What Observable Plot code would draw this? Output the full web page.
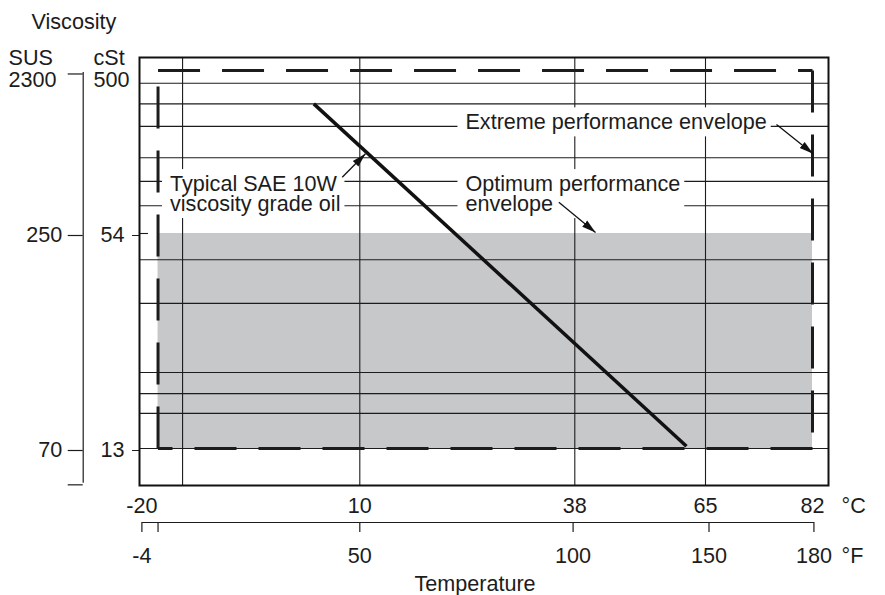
<!DOCTYPE html>
<html>
<head>
<meta charset="utf-8">
<script src="https://cdn.jsdelivr.net/npm/d3@7"></script>
<script src="https://cdn.jsdelivr.net/npm/@observablehq/plot@0.6"></script>
<style>
  html, body { margin: 0; padding: 0; background: #fff; }
</style>
</head>
<body>
<div id="chart"></div>
<script>
// ---------- data (temperature in °C, viscosity in cSt) ----------
const celsiusTicks = [-20, 10, 38, 65, 82];
const fahrenheitTicks = [-4, 0, 50, 100, 150, 180];
const fahrenheitLabels = ["-4", "", "50", "100", "150", "180"];
const celsiusGrid = [-14.4, 10, 38, 65];

const cstTicks = [54, 13];
const cstGrid = [420, 317, 233, 152, 110, 78.8, 45.4, 34.0, 21.5, 18.7, 16.4, 13];

const susLabels = ["", "250", "70", ""];
const susAsCst = [490, 54, 13, 10.38];

// envelopes
const envTempLow = 0;      // °F (left edge)
const envTempHigh = 82;    // °C (right edge)
const extremeVisc = [13, 500];
const optimumVisc = [13, 54];

// typical SAE 10W oil line
const oilTemp = [3.67, 61.07];
const oilVisc = [317, 13.2];

// annotations
const noteText = ["Typical SAE 10W\nviscosity grade oil", "Optimum performance\nenvelope", "Extreme performance envelope"];
const noteTemp = [-16.13, 23.76, 23.76];
const noteVisc = [117.0, 117.0, 271.8];

const arrowFromTemp = [7.58, 35.92, 76.28];
const arrowFromVisc = [116.5, 82.8, 239.3];
const arrowToTemp = [10.74, 42.28, 82.1];
const arrowToVisc = [160.4, 54.7, 160.4];

// ---------- helpers ----------
const fToC = f => (f - 32) * 5 / 9;
const fLabelMap = new Map(fahrenheitTicks.map((f, i) => [fToC(f), fahrenheitLabels[i]]));
const susLabelMap = new Map(susAsCst.map((c, i) => [c, susLabels[i]]));

const t0 = fToC(envTempLow), t1 = envTempHigh;
const [v0, v1] = extremeVisc;
const corners = [[t0, v1], [t1, v1], [t1, v0], [t0, v0]];
const sidePts = [];
for (let i = 0; i < 4; i++) {
  const a = corners[i], b = corners[(i + 1) % 4];
  sidePts.push({t: a[0], v: a[1], side: i}, {t: b[0], v: b[1], side: i});
}
const oil = oilTemp.map((t, i) => ({t, v: oilVisc[i]}));
const notes = noteText.map((text, i) => ({text, t: noteTemp[i], v: noteVisc[i]}));
const arrows = arrowFromTemp.map((t, i) => ({
  ta: t, va: arrowFromVisc[i], tb: arrowToTemp[i], vb: arrowToVisc[i]
}));

// scale breakpoints (the printed chart's axes are not uniform)
const xDomain = [-20.33, 10, 38, 65, 82, 84.5];
const xRange = [139, 359.3, 574.3, 705, 812, 828];
const yDomain = [10.2, 13, 54, 500, 597];
const yRange = [485, 448, 233, 70, 57];
const yBottom = yDomain[0];
const xLeft = xDomain[0];

const ink = "#1c1c1c";

const chart = Plot.plot({
  width: 885,
  height: 595,
  marginLeft: 139,
  marginRight: 57,
  marginTop: 57,
  marginBottom: 110,
  style: {
    fontFamily: '"Liberation Sans", Arial, Helvetica, sans-serif',
    fontSize: "21.6px",
    color: ink,
    background: "#fff"
  },
  x: {type: "linear", domain: xDomain, range: xRange},
  y: {type: "log", domain: yDomain, range: yRange},
  marks: [
    // optimum envelope shading
    Plot.rect([{a: t0, b: t1, lo: optimumVisc[0], hi: optimumVisc[1]}], {
      x1: "a", x2: "b", y1: "lo", y2: "hi", fill: "#c7c8ca"
    }),
    // grid
    Plot.gridY(cstGrid, {stroke: ink, strokeOpacity: 1, strokeWidth: 1.1}),
    Plot.gridX(celsiusGrid, {stroke: ink, strokeOpacity: 1, strokeWidth: 1.1}),
    // extreme envelope (dashed)
    Plot.line(sidePts, {
      x: "t", y: "v", z: "side", stroke: ink, strokeWidth: 3,
      strokeDasharray: "42,22", strokeLinecap: "butt"
    }),
    // oil line
    Plot.line(oil, {x: "t", y: "v", stroke: "#111", strokeWidth: 3.5, strokeLinecap: "butt"}),
    // annotations (white boxes are added behind them after rendering)
    Plot.text(notes, {
      x: "t", y: "v", text: "text", textAnchor: "start", lineAnchor: "top",
      lineHeight: 0.926, fill: ink
    }),
    // leader arrows
    Plot.link(arrows, {
      x1: "ta", y1: "va", x2: "tb", y2: "vb", stroke: "#111", strokeWidth: 1.3,
      markerEnd: "arrow"
    }),
    // °C axis
    Plot.axisX(celsiusTicks, {anchor: "bottom", tickSize: 0, tickPadding: 11.7, label: null, tickFormat: d => String(d)}),
    // °F axis
    Plot.link([0], {
      x1: () => fToC(-4), x2: () => fToC(180), y1: () => yBottom, y2: () => yBottom,
      dy: 37, stroke: ink, strokeWidth: 1.2
    }),
    Plot.axisX(fahrenheitTicks.map(fToC), {
      anchor: "bottom", tickSize: 10, tickPadding: 14.7, dy: 37, label: null,
      strokeWidth: 1.2, tickFormat: d => fLabelMap.get(d)
    }),
    // cSt axis
    Plot.axisY(cstTicks, {anchor: "left", tickSize: 7, tickPadding: 8, dy: 2, label: null, tickFormat: d => String(d)}),
    Plot.ruleY([cstTicks[0]], {x1: () => xLeft, x2: () => -19.09, stroke: ink, strokeWidth: 1.1}),
    // SUS bracket axis
    Plot.link([0], {
      x1: () => xLeft, x2: () => xLeft, y1: () => susAsCst[3], y2: () => susAsCst[0],
      dx: -56.3, stroke: ink, strokeWidth: 1.2
    }),
    Plot.axisY(susAsCst, {
      anchor: "left", tickSize: 15, tickPadding: 6, dx: -56.3, dy: 2, label: null,
      strokeWidth: 1.2, tickFormat: d => susLabelMap.get(d)
    }),
    // titles and unit labels
    Plot.text(["Viscosity"], {frameAnchor: "top-left", textAnchor: "start", lineAnchor: "top", dx: -108, dy: -44, fill: ink}),
    Plot.text(["SUS\n2300"], {frameAnchor: "top-left", textAnchor: "start", lineAnchor: "top", lineHeight: 1, dx: -131, dy: -7.6, fill: ink}),
    Plot.text(["cSt\n500"], {frameAnchor: "top-left", textAnchor: "start", lineAnchor: "top", lineHeight: 1, dx: -46, dy: -7.6, fill: ink}),
    Plot.text(["Temperature"], {frameAnchor: "bottom", textAnchor: "middle", lineAnchor: "top", dx: -9, dy: 90.4, fill: ink}),
    Plot.text(["°C"], {frameAnchor: "bottom-right", textAnchor: "start", lineAnchor: "top", dx: 13, dy: 11.7, fill: ink}),
    Plot.text(["°F"], {frameAnchor: "bottom-right", textAnchor: "start", lineAnchor: "top", dx: 13, dy: 61.7, fill: ink}),
    // frame
    Plot.frame({stroke: "#111", strokeWidth: 2})
  ]
});

// filled triangular arrowheads
chart.querySelectorAll("marker").forEach(m => {
  m.setAttribute("viewBox", "-10 -5 10 10");
  m.setAttribute("markerUnits", "userSpaceOnUse");
  m.setAttribute("markerWidth", 14);
  m.setAttribute("markerHeight", 14);
  m.setAttribute("fill", "#111");
  m.setAttribute("stroke", "none");
  m.querySelectorAll("path").forEach(p => {
    p.setAttribute("d", "M-10,-2.8L0,0L-10,2.8Z");
    p.setAttribute("fill", "#111");
    p.setAttribute("stroke", "none");
  });
});

document.getElementById("chart").appendChild(chart);

// white boxes behind the annotations, sized from the rendered text
const noteKeys = new Set(noteText.map(s => s.replace(/\n/g, "")));
chart.querySelectorAll("text").forEach(t => {
  if (!noteKeys.has(t.textContent.replace(/\n/g, ""))) return;
  let b;
  try { b = t.getBBox(); } catch (e) { return; }
  const r = document.createElementNS("http://www.w3.org/2000/svg", "rect");
  r.setAttribute("x", b.x - 8);
  r.setAttribute("y", b.y - 2);
  r.setAttribute("width", b.width + 12);
  r.setAttribute("height", b.height + 4);
  r.setAttribute("fill", "#fff");
  r.setAttribute("stroke", "none");
  const tr = t.getAttribute("transform");
  if (tr) r.setAttribute("transform", tr);
  t.parentNode.insertBefore(r, t);
});
</script>
</body>
</html>
